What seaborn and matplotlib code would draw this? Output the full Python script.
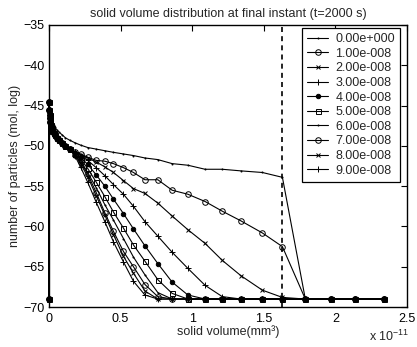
import numpy as np
import pandas as pd
import matplotlib
matplotlib.use("Agg")
import matplotlib.pyplot as plt
import seaborn as sns

# solid volume grid (units of 1e-11 mm^3)
volume = [0, 0.001, 0.002, 0.004, 0.006, 0.009, 0.013, 0.018, 0.024, 0.032, 0.042,
          0.055, 0.07, 0.09, 0.115, 0.145, 0.18, 0.22, 0.27, 0.33, 0.39, 0.45, 0.52,
          0.59, 0.67, 0.76, 0.86, 0.97, 1.09, 1.21, 1.34, 1.49, 1.63, 1.79, 1.97, 2.14, 2.34]

labels = ["0.00e+000", "1.00e-008", "2.00e-008", "3.00e-008", "4.00e-008",
          "5.00e-008", "6.00e-008", "7.00e-008", "8.00e-008", "9.00e-008"]

s0 = [-69, -44.5, -45.2, -45.6, -45.9, -46.2, -46.5, -46.8, -47.1, -47.4, -47.7,
      -48.0, -48.3, -48.6, -49.0, -49.3, -49.6, -49.9, -50.2, -50.4, -50.6, -50.8,
      -51.0, -51.2, -51.5, -51.7, -52.2, -52.4, -52.9, -52.9, -53.1, -53.3, -53.9,
      -69, -69, -69, -69]

# common head shared by the non-zero series (bins 0 .. 0.145)
head = [-69, -44.5, -45.5, -46.2, -46.6, -47.0, -47.4, -47.8, -48.1, -48.4, -48.7,
        -49.0, -49.3, -49.6, -50.0, -50.4]

t1 = [-50.7, -51.0, -51.4, -51.8, -51.9, -52.2, -52.7, -53.3, -54.2, -54.2, -55.5,
      -56.0, -56.9, -58.1, -59.3, -60.8, -62.5, -69, -69, -69, -69]
t2 = [-50.8, -51.1, -51.5, -52.0, -52.6, -53.3, -54.3, -55.3, -55.9, -57.1, -58.7,
      -60.4, -62.1, -64.2, -66.1, -67.9, -68.8, -69, -69, -69, -69]
t3 = [-50.8, -51.2, -51.8, -52.7, -53.7, -54.8, -56.0, -57.5, -59.4, -61.2, -63.2,
      -65.2, -67.3, -68.7, -69, -69, -69, -69, -69, -69, -69]
t4 = [-50.9, -51.4, -52.3, -53.6, -55.0, -56.6, -58.4, -60.3, -62.4, -64.6, -66.9,
      -68.5, -69, -69, -69, -69, -69, -69, -69, -69, -69]
t5 = [-51.0, -51.6, -52.8, -54.5, -56.3, -58.2, -60.2, -62.3, -64.3, -66.6, -68.3,
      -69, -69, -69, -69, -69, -69, -69, -69, -69, -69]
t6 = [-51.0, -51.8, -53.3, -55.2, -57.3, -59.2, -61.5, -63.8, -66.0, -68.2, -69,
      -69, -69, -69, -69, -69, -69, -69, -69, -69, -69]
t7 = [-51.1, -52.0, -53.5, -55.8, -58.3, -60.6, -63.1, -65.0, -67.2, -68.7, -69,
      -69, -69, -69, -69, -69, -69, -69, -69, -69, -69]
t8 = [-51.1, -52.2, -53.8, -56.2, -58.6, -61.0, -63.7, -65.8, -68.0, -69, -69,
      -69, -69, -69, -69, -69, -69, -69, -69, -69, -69]
t9 = [-51.2, -52.6, -54.5, -57.0, -59.4, -61.9, -64.4, -66.8, -68.5, -69, -69,
      -69, -69, -69, -69, -69, -69, -69, -69, -69, -69]

series = [s0] + [head + t for t in (t1, t2, t3, t4, t5, t6, t7, t8, t9)]

markers = [".", "o", "x", "+", "o", "s", ".", "o", "x", "+"]
msizes = [1.5, 4.0, 3.0, 4.0, 3.2, 3.6, 1.5, 4.0, 3.0, 4.0]
mfaces = ["black", "none", "black", "black", "black", "none", "black", "none", "black", "black"]

sns.set_theme(style="white")
plt.rcParams["font.family"] = ["Liberation Sans", "DejaVu Sans"]
plt.rcParams["mathtext.default"] = "regular"

fig = plt.figure(figsize=(4.17, 3.47), dpi=100)
ax = fig.add_axes([0.1175, 0.115, 0.8585, 0.813])

for ys, lab, m, ms, fc in zip(series, labels, markers, msizes, mfaces):
    df = pd.DataFrame({"v": volume, "n": ys})
    sns.lineplot(data=df, x="v", y="n", ax=ax, color="black", lw=0.8,
                 marker=m, markersize=ms, markerfacecolor=fc,
                 markeredgecolor="black", markeredgewidth=0.7,
                 label=lab, sort=False, estimator=None, clip_on=False)

ax.axvline(1.63, color="black", lw=1.2, ls=(0, (3.0, 2.5)))

ax.set_xlim(0, 2.5)
ax.set_ylim(-70, -35)
ax.set_xticks([0, 0.5, 1, 1.5, 2, 2.5])
ax.set_xticklabels(["0", "0.5", "1", "1.5", "2", "2.5"])
ax.set_yticks([-70, -65, -60, -55, -50, -45, -40, -35])

ax.tick_params(direction="in", top=True, right=True, length=4, width=0.8,
               labelsize=9, colors="black")
ax.tick_params(axis="x", pad=4)
ax.tick_params(axis="y", pad=3)
for sp in ax.spines.values():
    sp.set_color("black")
    sp.set_linewidth(1.0)

ax.set_xlabel("solid volume(mm³)", fontsize=9, labelpad=0.5)
ax.set_ylabel("number of particles (mol, log)", fontsize=9, labelpad=2)
ax.set_title("solid volume distribution at final instant (t=2000 s)", fontsize=9, pad=6)

fig.text(0.885, 0.018, r"x 10$^{-11}$", fontsize=9, ha="left", va="baseline")

leg = ax.legend(loc="upper right", bbox_to_anchor=(0.980, 0.989), borderaxespad=0,
                fontsize=9, labelspacing=0.21, handlelength=1.7, handletextpad=0.55,
                borderpad=0.4, fancybox=False, frameon=True)
leg.get_frame().set_edgecolor("black")
leg.get_frame().set_linewidth(0.9)
leg.get_frame().set_alpha(1)

fig.savefig("out.png", dpi=100)
